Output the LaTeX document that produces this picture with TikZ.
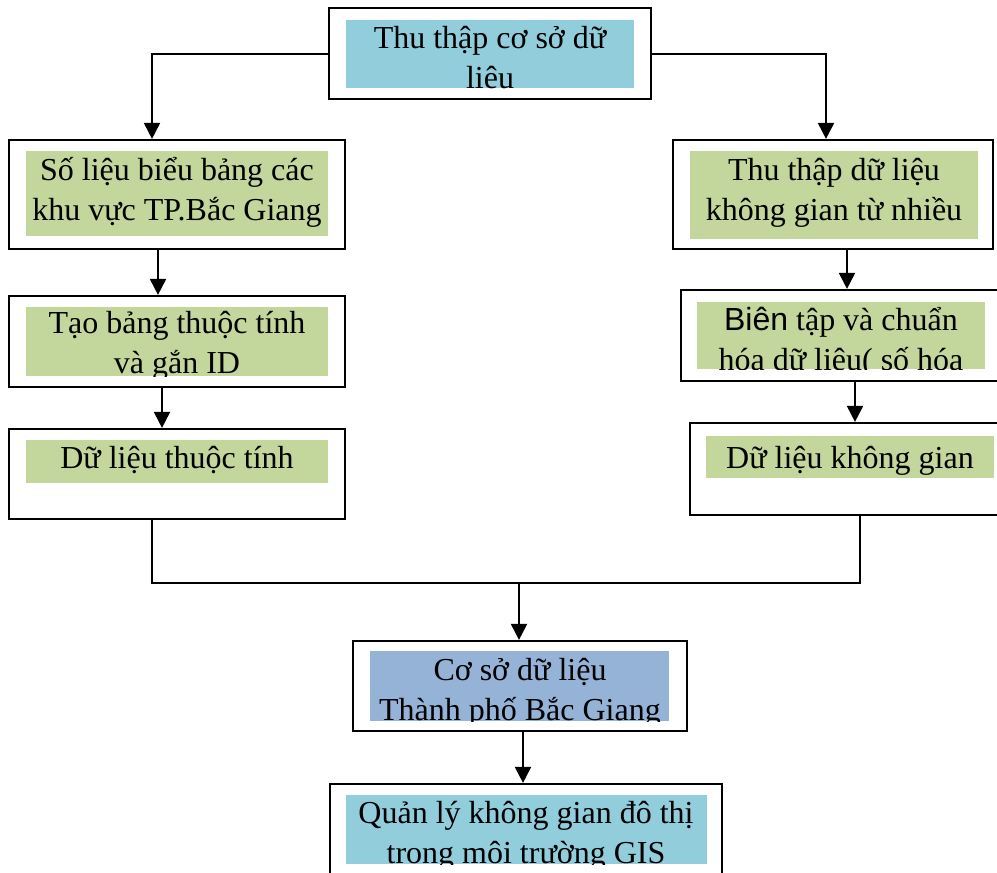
\documentclass[tikz,border=0pt]{standalone}
\usepackage{fontspec}
\setmainfont{Liberation Serif}
\setsansfont{Liberation Sans}
\usetikzlibrary{arrows.meta,fit}
\definecolor{myaqua}{RGB}{146,205,220}
\definecolor{mygreen}{RGB}{195,214,155}
\definecolor{myblue}{RGB}{149,179,215}
\newcommand\mylines[1]{\vtop{\baselineskip=40pt\lineskiplimit=-1000pt\halign{\hfil##\hfil\cr#1\crcr}}}
\begin{document}
\begin{tikzpicture}[x=1pt,y=-1pt,
  outerbox/.style={draw=black,line width=2.2pt,inner sep=0pt,rectangle},
  fillbox/.style={fill=#1,draw=none,inner sep=0pt,rectangle},
  txt/.style={anchor=base,inner sep=0pt,font=\fontsize{32}{40}\selectfont},
  conn/.style={draw=black,line width=2pt},
  arr/.style={conn,-{Triangle[width=16pt,length=16pt]}}]
\clip (0,0) rectangle (997,873);
\fill[white] (0,0) rectangle (997,873);

% top box
\node[outerbox,fit={(329,8) (651,99)}] (top) {};
\node[fillbox=myaqua,fit={(346,20) (634,88)}] (topf) {};
\begin{scope}
\clip (topf.south west) rectangle (topf.north east);
\node[txt] (topt) at (490,48) {\mylines{Thu thập cơ sở dữ\cr liệu}};
\end{scope}

% left column
\node[outerbox,fit={(9,140) (345,249)}] (L1) {};
\node[fillbox=mygreen,fit={(26,151) (328,236)}] (L1f) {};
\begin{scope}
\clip (L1f.south west) rectangle (L1f.north east);
\node[txt] (L1t) at (177,180) {\mylines{Số liệu biểu bảng các\cr khu vực TP.Bắc Giang}};
\end{scope}

\node[outerbox,fit={(9,296) (345,387)}] (L2) {};
\node[fillbox=mygreen,fit={(26,307) (328,376)}] (L2f) {};
\begin{scope}
\clip (L2f.south west) rectangle (L2f.north east);
\node[txt] (L2t) at (177,333) {\mylines{Tạo bảng thuộc tính\cr và gắn ID}};
\end{scope}

\node[outerbox,fit={(9,429) (345,519)}] (L3) {};
\node[fillbox=mygreen,fit={(26,440) (328,483)}] (L3f) {};
\begin{scope}
\clip (L3f.south west) rectangle (L3f.north east);
\node[txt] (L3t) at (177,468) {Dữ liệu thuộc tính};
\end{scope}

% right column
\node[outerbox,fit={(673,140) (993,249)}] (R1) {};
\node[fillbox=mygreen,fit={(690,151) (978,239)}] (R1f) {};
\begin{scope}
\clip (R1f.south west) rectangle (R1f.north east);
\node[txt] (R1t) at (834,180) {\mylines{Thu thập dữ liệu\cr không gian từ nhiều}};
\end{scope}

\node[outerbox,fit={(681,290) (1005,381)}] (R2) {};
\node[fillbox=mygreen,fit={(697,302) (985,369)}] (R2f) {};
\begin{scope}
\clip (R2f.south west) rectangle (R2f.north east);
\node[txt] (R2t) at (841,330) {\mylines{{\sffamily Biên} tập và chuẩn\cr hóa dữ liệu( số hóa}};
\end{scope}

\node[outerbox,fit={(690,423) (1005,515)}] (R3) {};
\node[fillbox=mygreen,fit={(706,436) (994,478)}] (R3f) {};
\begin{scope}
\clip (R3f.south west) rectangle (R3f.north east);
\node[txt] (R3t) at (850,468) {Dữ liệu không gian};
\end{scope}

% bottom
\node[outerbox,fit={(353,641) (687,731)}] (C) {};
\node[fillbox=myblue,fit={(370,651) (669,721)}] (Cf) {};
\begin{scope}
\clip (Cf.south west) rectangle (Cf.north east);
\node[txt] (Ct) at (520,680) {\mylines{Cơ sở dữ liệu\cr Thành phố Bắc Giang}};
\end{scope}

\node[outerbox,fit={(330,784) (722,885)}] (Q) {};
\node[fillbox=myaqua,fit={(346,795) (707,864)}] (Qf) {};
\begin{scope}
\clip (Qf.south west) rectangle (Qf.north east);
\node[txt] (Qt) at (526,823) {\mylines{Quản lý không gian đô thị\cr trong môi trường GIS}};
\end{scope}

% connectors
\draw[arr] (top.west) -| ([xshift=-25pt]L1.north);
\draw[arr] (top.east) -| ([xshift=-7pt]R1.north);
\draw[arr] ([xshift=-19pt]L1.south) -- ([xshift=-19pt]L2.north);
\draw[arr] ([xshift=-15pt]L2.south) -- ([xshift=-15pt]L3.north);
\draw[arr] ([xshift=14pt]R1.south) -- ([xshift=4pt]R2.north);
\draw[arr] ([xshift=12pt]R2.south) -- ([xshift=7.5pt]R3.north);
\coordinate (mrg) at (519,583);
\draw[conn] ([xshift=-25pt]L3.south) |- (mrg) -| ([xshift=12.5pt]R3.south);
\draw[arr] (mrg) -- ([xshift=-1pt]C.north);
\draw[arr] ([xshift=3pt]C.south) -- ([xshift=-3pt]Q.north);
\end{tikzpicture}
\end{document}
